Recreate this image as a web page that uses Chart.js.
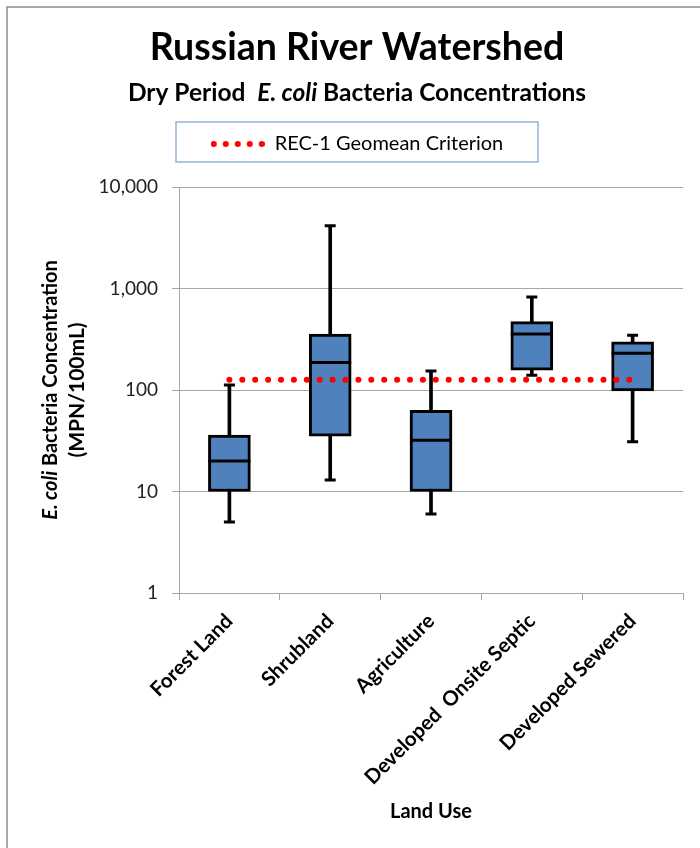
<!DOCTYPE html>
<html>
<head>
<meta charset="utf-8">
<title>Russian River Watershed</title>
<script src="https://cdn.jsdelivr.net/npm/chart.js@4.4.1/dist/chart.umd.min.js"></script>
<style>
  html, body { margin: 0; padding: 0; background: #fff; overflow: hidden; }
  canvas { display: block; }
</style>
</head>
<body>
<canvas id="chart" width="700" height="848"></canvas>
<script>
const categories = ["Forest Land", "Shrubland", "Agriculture", "Developed  Onsite Septic", "Developed Sewered"];
const whiskerLow = [5, 13, 6, 140, 31];
const quartile1 = [10, 35, 10, 157, 98];
const medians = [20, 187, 32, 356, 230];
const quartile3 = [36, 356, 63, 471, 299];
const whiskerHigh = [112, 4160, 154, 825, 346];
const rec1Criterion = [126, 126, 126, 126, 126];
const yTicks = [1, 10, 100, 1000, 10000];

const FONT = "Lato";

// five red dots for the legend entry
const legendDots = document.createElement("canvas");
legendDots.width = 54;
legendDots.height = 8;
(function () {
    const c = legendDots.getContext("2d");
    c.fillStyle = "#ff0000";
    for (let i = 0; i < 5; i++) {
        c.beginPath();
        c.arc(3 + i * 12, 4, 3, 0, Math.PI * 2);
        c.fill();
    }
})();

// draws pieces of text with different fonts, centred on x
function drawRuns(ctx, runs, x, y) {
    let total = 0;
    runs.forEach(r => { ctx.font = r.font; r.w = ctx.measureText(r.text).width; total += r.w; });
    let px = x - total / 2;
    runs.forEach(r => { ctx.font = r.font; ctx.fillText(r.text, px, y); px += r.w; });
}

const extras = {
    id: "extras",
    beforeInit(chart) {
        // room between legend and plot
        const fit = chart.legend.fit;
        chart.legend.fit = function () {
            fit.call(this);
            this.height += 23;
        };
    },
    beforeDraw(chart) {
        const ctx = chart.ctx;
        ctx.save();
        ctx.fillStyle = "#fff";
        ctx.fillRect(0, 0, chart.width, chart.height);
        // outer frame, only left and top edges are inside the crop
        ctx.strokeStyle = "#8c8c8c";
        ctx.lineWidth = 1.5;
        ctx.beginPath();
        ctx.moveTo(7, chart.height);
        ctx.lineTo(7, 7);
        ctx.lineTo(chart.width, 7);
        ctx.stroke();
        ctx.restore();
    },
    afterDraw(chart) {
        const ctx = chart.ctx;
        const area = chart.chartArea;
        const lg = chart.legend;
        const cx = (lg.left + lg.right) / 2;
        ctx.save();
        ctx.fillStyle = "#000";
        ctx.textAlign = "left";
        ctx.textBaseline = "alphabetic";

        // subtitle
        drawRuns(ctx, [
            { text: "Dry Period  ", font: "bold 24.5px " + FONT },
            { text: "E. coli", font: "italic bold 24.5px " + FONT },
            { text: " Bacteria Concentrations", font: "bold 24.5px " + FONT }
        ], cx, 101);

        // legend frame
        ctx.strokeStyle = "#95b3d7";
        ctx.lineWidth = 1.5;
        ctx.strokeRect(cx - 181, lg.top - 2, 362, 40);

        // y axis title
        const cy = (area.top + area.bottom) / 2;
        ctx.save();
        ctx.translate(57, cy);
        ctx.rotate(-Math.PI / 2);
        drawRuns(ctx, [
            { text: "E. coli", font: "italic bold 20px " + FONT },
            { text: " Bacteria Concentration", font: "bold 20px " + FONT }
        ], 0, 0);
        ctx.restore();
        ctx.save();
        ctx.translate(84, cy);
        ctx.rotate(-Math.PI / 2);
        drawRuns(ctx, [{ text: "(MPN/100mL)", font: "bold 21px " + FONT }], 0, 0);
        ctx.restore();

        ctx.restore();
    }
};

new Chart(document.getElementById("chart"), {
    type: "bar",
    data: {
        labels: categories,
        datasets: [
            {
                type: "line",
                label: "REC-1 Geomean Criterion",
                data: rec1Criterion,
                borderColor: "#ff0000",
                borderWidth: 6,
                borderDash: [0, 12.9],
                borderCapStyle: "round",
                pointRadius: 0,
                order: 0
            },
            {
                type: "line",
                label: "Median",
                data: medians,
                showLine: false,
                pointStyle: "line",
                pointRadius: 21,
                pointBorderWidth: 3,
                pointBorderColor: "#000",
                order: 1
            },
            {
                type: "line",
                label: "Max",
                data: whiskerHigh,
                showLine: false,
                pointStyle: "line",
                pointRadius: 5.5,
                pointBorderWidth: 3,
                pointBorderColor: "#000",
                order: 1
            },
            {
                type: "line",
                label: "Min",
                data: whiskerLow,
                showLine: false,
                pointStyle: "line",
                pointRadius: 5.5,
                pointBorderWidth: 3,
                pointBorderColor: "#000",
                order: 1
            },
            {
                label: "Box",
                data: categories.map((c, i) => [quartile1[i], quartile3[i]]),
                backgroundColor: "#4f81bd",
                borderColor: "#000",
                borderWidth: 3,
                borderSkipped: false,
                barThickness: 42,
                grouped: false,
                order: 2
            },
            {
                label: "Whisker",
                data: categories.map((c, i) => [whiskerLow[i], whiskerHigh[i]]),
                backgroundColor: "#000",
                borderWidth: 0,
                barThickness: 3,
                grouped: false,
                order: 3
            }
        ]
    },
    options: {
        responsive: false,
        animation: false,
        events: [],
        // the original chart is wider than the crop, so titles sit right of centre
        layout: { autoPadding: false, padding: { top: 8, left: 14, right: 0, bottom: 0 } },
        plugins: {
            title: {
                display: true,
                text: "Russian River Watershed",
                color: "#000",
                font: { family: FONT, size: 37.5, weight: "bold" },
                padding: { top: 17, bottom: 54 }
            },
            legend: {
                display: true,
                position: "top",
                labels: {
                    usePointStyle: true,
                    pointStyle: legendDots,
                    pointStyleWidth: 54,
                    padding: 10,
                    color: "#000",
                    font: { family: FONT, size: 20 },
                    filter: item => item.datasetIndex === 0
                }
            },
            tooltip: { enabled: false }
        },
        scales: {
            x: {
                offset: true,
                grid: { display: true, drawOnChartArea: false, drawTicks: true, tickLength: 7, color: "#a6a6a6", offset: true },
                border: { display: true, color: "#a6a6a6" },
                ticks: {
                    minRotation: 45,
                    maxRotation: 45,
                    autoSkip: false,
                    padding: 9,
                    labelOffset: 0,
                    color: "#000",
                    font: { family: FONT, size: 20.5, weight: "bold" }
                },
                title: {
                    display: true,
                    text: "Land Use",
                    color: "#000",
                    font: { family: FONT, size: 20, weight: "bold" },
                    padding: { top: 0, bottom: 24 }
                },
                afterFit(scale) {
                    scale.height = 255;
                    scale.paddingLeft = 0;
                    scale.paddingRight = 0;
                }
            },
            y: {
                type: "logarithmic",
                min: 1,
                max: 10000,
                afterBuildTicks(scale) {
                    scale.ticks = yTicks.map(v => ({ value: v }));
                },
                grid: { color: "#a6a6a6", tickLength: 7 },
                border: { color: "#a6a6a6" },
                ticks: {
                    padding: 14,
                    color: "#222",
                    font: { family: FONT, size: 19 },
                    callback: v => Number(v).toLocaleString("en-US")
                },
                afterFit(scale) { scale.width = 165; }
            },
            // empty right-hand strip so the plot ends where the reference does
            yRight: {
                position: "right",
                display: true,
                grid: { display: false },
                border: { display: false },
                ticks: { display: false },
                afterFit(scale) { scale.width = 17; }
            }
        }
    },
    plugins: [extras]
});
</script>
</body>
</html>
